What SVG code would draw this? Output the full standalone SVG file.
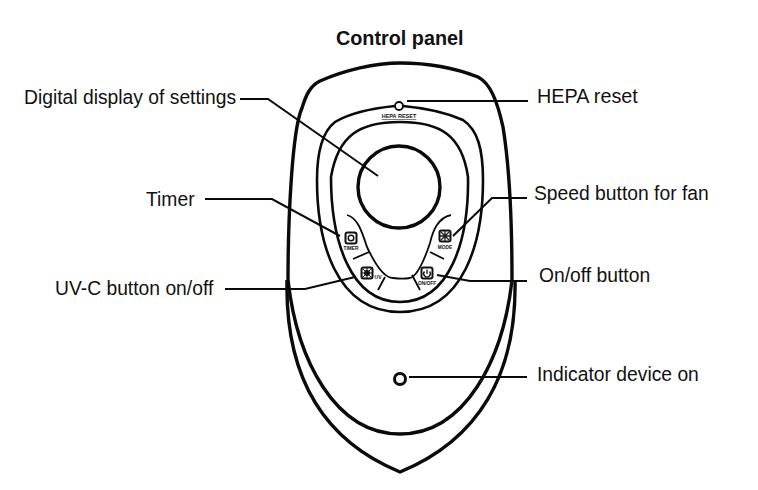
<svg xmlns="http://www.w3.org/2000/svg" width="758" height="490" viewBox="0 0 758 490">
<style>
text{font-family:"Liberation Sans",Arial,sans-serif;fill:#111}
.lb{font-size:19.300px}
.t{font-size:19.800px;font-weight:bold}
.s{font-size:5.500px;font-weight:bold;text-anchor:middle}
.b{fill:none;stroke:#0a0a0a;stroke-width:3.400;stroke-linejoin:round}
.b2{fill:none;stroke:#0a0a0a;stroke-width:2.600}
.c{fill:none;stroke:#0a0a0a;stroke-width:1.800}
.l{fill:none;stroke:#0a0a0a;stroke-width:2}
.i{fill:none;stroke:#111;stroke-width:2}
</style>
<rect width="758" height="490" fill="#fff"/>
<text class="t" x="336" y="45">Control panel</text>
<g id="body">
<path class="b" d="M288 280C288 220 292 130 302 108C306 95 310 86 320 81C345 70 375 63 400 63C430 63 455 68 478 77C490 83 497 100 503 127C510 170 512 230 512 280C503 360 465 434 400 434C335 434 297 360 288 280Z"/>
<path class="b" d="M287 280C285 375 322 440 400 472C478 440 517 375 515 280"/>
</g>
<g id="panel">
<path class="b2" d="M395 106C375 108 350 113 335 122C322 132 317 155 317 180C317 240 335 312 400 312C465 312 483 240 483 180C483 150 478 130 463 120C445 112 425 108 403 106"/>
<path class="b2" d="M400 122C360 122 338 135 331 177C331 240 350 302 400 302C450 302 469 240 468 177C462 135 440 122 400 122Z"/>
<path class="c" d="M347 215C358 218 362 232 367 247C374 262 383 278 393 278C400 279 405 279 410 278C418 276 425 258 430 243C433 230 438 218 451 215"/>
<path class="c" d="M353 259L369 252M378 290L385 277M420 290L412 275M444 259L430 252"/>
</g>
<g id="display"><circle class="b" cx="399" cy="187" r="41"/></g>
<g id="hepa-reset"><circle cx="399" cy="106" r="4" fill="#fff" stroke="#0a0a0a" stroke-width="1.800"/><text class="s" x="399" y="118" style="text-decoration:underline">HEPA RESET</text></g>
<g id="timer"><rect class="i" x="345.500" y="232.500" width="11" height="11" rx="2"/><circle cx="351" cy="238" r="2.800" fill="none" stroke="#111" stroke-width="1.400"/><text class="s" x="351" y="250" style="font-size:4.800px">TIMER</text></g>
<g id="uvc"><rect class="i" x="361.500" y="267.500" width="11" height="11" rx="2"/><circle cx="367" cy="273" r="3" fill="#111"/><path d="M362 268L372 278M372 268L362 278M367 267V279M361 273H373" stroke="#111"/><text class="s" x="378" y="279" style="font-size:5px">UV</text></g>
<g id="speed"><rect class="i" x="439.500" y="230.500" width="11" height="11" rx="2" fill="#333"/><path d="M441 232L449 240M449 232L441 240M445 231V241M440 236H450" stroke="#222" stroke-width="1.400"/><text class="s" x="445" y="249" style="font-size:4.800px">MODE</text></g>
<g id="onoff"><rect class="i" x="421.500" y="267.500" width="11" height="11" rx="2"/><path d="M424.500 271.500A3.300 3.300 0 1 0 429.500 271.500M427 269.500V274" fill="none" stroke="#111" stroke-width="1.300"/><text class="s" x="427" y="285" style="font-size:4.800px">ON/OFF</text></g>
<g id="indicator"><circle cx="400" cy="379" r="5.500" fill="none" stroke="#0a0a0a" stroke-width="3"/></g>
<g id="connectors">
<path class="l" d="M240 99H268L378 176"/>
<path class="l" d="M407 101H528"/>
<path class="l" d="M205 199H272L340 236"/>
<path class="l" d="M527 198H492L453 236"/>
<path class="l" d="M225 289H305L355 277"/>
<path class="l" d="M527 281H470L437 275"/>
<path class="l" d="M409 377H527"/>
</g>
<g id="labels">
<text class="lb" x="24" y="104">Digital display of settings</text>
<text class="lb" x="537" y="103" style="font-size:19.800px">HEPA reset</text>
<text class="lb" x="146" y="206">Timer</text>
<text class="lb" x="534" y="200">Speed button for fan</text>
<text class="lb" x="55" y="295">UV-C button on/off</text>
<text class="lb" x="539" y="282">On/off button</text>
<text class="lb" x="537" y="381">Indicator device on</text>
</g>
</svg>
